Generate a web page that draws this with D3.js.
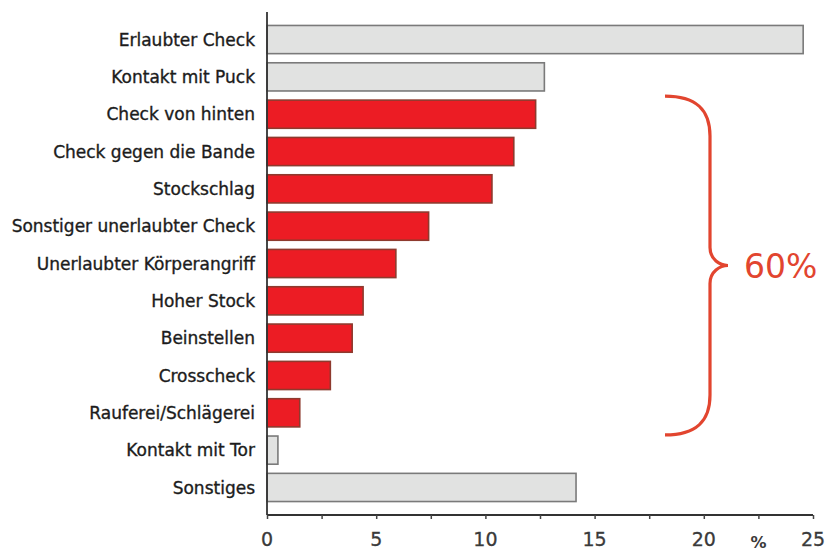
<!DOCTYPE html>
<html>
<head>
<meta charset="utf-8">
<script src="https://cdn.jsdelivr.net/npm/d3@7"></script>
<style>
  body { margin: 0; background: #fff; }
  svg text { font-family: "DejaVu Sans", Verdana, sans-serif; }
</style>
</head>
<body>
<div id="chart"></div>
<script>
// Data (percent)
var categories = [
	"Erlaubter Check", "Kontakt mit Puck", "Check von hinten", "Check gegen die Bande",
	"Stockschlag", "Sonstiger unerlaubter Check", "Unerlaubter Körperangriff", "Hoher Stock",
	"Beinstellen", "Crosscheck", "Rauferei/Schlägerei", "Kontakt mit Tor", "Sonstiges"
];
var values = [24.55, 12.7, 12.3, 11.3, 10.3, 7.4, 5.9, 4.4, 3.9, 2.9, 1.5, 0.5, 14.15];
// which bars are fouls (red)
var isFoul = [false, false, true, true, true, true, true, true, true, true, true, false, false];
var xTicks = [0, 5, 10, 15, 20, 25];
var braceLabel = "60%";

var W = 826, H = 552;
var X0 = 267, X1 = 813;
var AXIS_Y = 515;

var svg = d3.select("#chart").append("svg")
	.attr("width", W)
	.attr("height", H);

var x = d3.scaleLinear().domain([0, 25]).range([X0, X1]);
var y = d3.scaleBand().domain(categories).range([18, 509]).paddingInner(0.245).paddingOuter(0.2);

// Bars
svg.selectAll("rect.bar")
	.data(categories)
	.enter()
	.append("rect")
	.attr("class", "bar")
	.attr("x", x(0))
	.attr("y", function(d) { return y(d); })
	.attr("width", function(d, i) { return x(values[i]) - x(0); })
	.attr("height", y.bandwidth())
	.attr("fill", function(d, i) { return isFoul[i] ? "#ec1c24" : "#e1e2e1"; })
	.attr("stroke", function(d, i) { return isFoul[i] ? "#8e3a2e" : "#7a7a7a"; })
	.attr("stroke-width", 1.6);

// Category labels (a thin stroke to get the heavier look)
svg.selectAll("text.cat")
	.data(categories)
	.enter()
	.append("text")
	.attr("class", "cat")
	.attr("x", X0 - 12)
	.attr("y", function(d) { return y(d) + y.bandwidth() / 2; })
	.attr("dy", "0.36em")
	.attr("text-anchor", "end")
	.attr("font-size", 17)
	.attr("fill", "#1c1c1c")
	.attr("stroke", "#1c1c1c")
	.attr("stroke-width", 0.35)
	.text(function(d) { return d; });

// Y axis line
svg.append("line")
	.attr("x1", X0).attr("x2", X0)
	.attr("y1", 12).attr("y2", AXIS_Y)
	.attr("stroke", "#333")
	.attr("stroke-width", 1.8);

// X axis
var xAxis = d3.axisBottom(x)
	.tickValues(d3.range(0, 25.1, 2.5))
	.tickSize(4)
	.tickFormat("");
var gx = svg.append("g")
	.attr("transform", "translate(0," + AXIS_Y + ")")
	.call(xAxis);
gx.select(".domain").attr("stroke", "#333").attr("stroke-width", 1.8)
	.attr("d", "M" + X0 + ",0H" + X1);
gx.selectAll(".tick line").attr("stroke", "#444").attr("stroke-width", 1.5);

svg.selectAll("text.xt")
	.data(xTicks)
	.enter()
	.append("text")
	.attr("class", "xt")
	.attr("x", function(d) { return x(d); })
	.attr("y", 546)
	.attr("text-anchor", "middle")
	.attr("font-size", 19)
	.attr("fill", "#3a3a3a")
	.attr("stroke", "#3a3a3a")
	.attr("stroke-width", 0.3)
	.text(function(d) { return d; });

svg.append("text")
	.attr("x", x(22.5))
	.attr("y", 548)
	.attr("text-anchor", "middle")
	.attr("font-size", 16)
	.attr("font-weight", "bold")
	.attr("fill", "#3a3a3a")
	.text("%");

// Brace around the foul bars
var firstFoul = categories[isFoul.indexOf(true)];
var lastFoul = categories[isFoul.lastIndexOf(true)];
var bTop = y(firstFoul) - 4;
var bBot = y(lastFoul) + y.bandwidth() + 8;
var bMid = (bTop + bBot) / 2;
var bx0 = 665, bx = 710, tip = 728;
var braceColor = "#e2452f";

var p = d3.path();
p.moveTo(bx0, bTop);
p.bezierCurveTo(bx0 + 32, bTop, bx, bTop + 14, bx, bTop + 40);
p.lineTo(bx, bMid - 18);
p.bezierCurveTo(bx, bMid - 6, tip - 8, bMid, tip, bMid);
p.bezierCurveTo(tip - 8, bMid, bx, bMid + 6, bx, bMid + 18);
p.lineTo(bx, bBot - 40);
p.bezierCurveTo(bx, bBot - 14, bx0 + 32, bBot, bx0, bBot);

svg.append("path")
	.attr("d", p.toString())
	.attr("fill", "none")
	.attr("stroke", braceColor)
	.attr("stroke-width", 3.2);

svg.append("text")
	.attr("x", 744)
	.attr("y", bMid + 12)
	.attr("font-size", 33)
	.attr("fill", braceColor)
	.text(braceLabel);
</script>
</body>
</html>
